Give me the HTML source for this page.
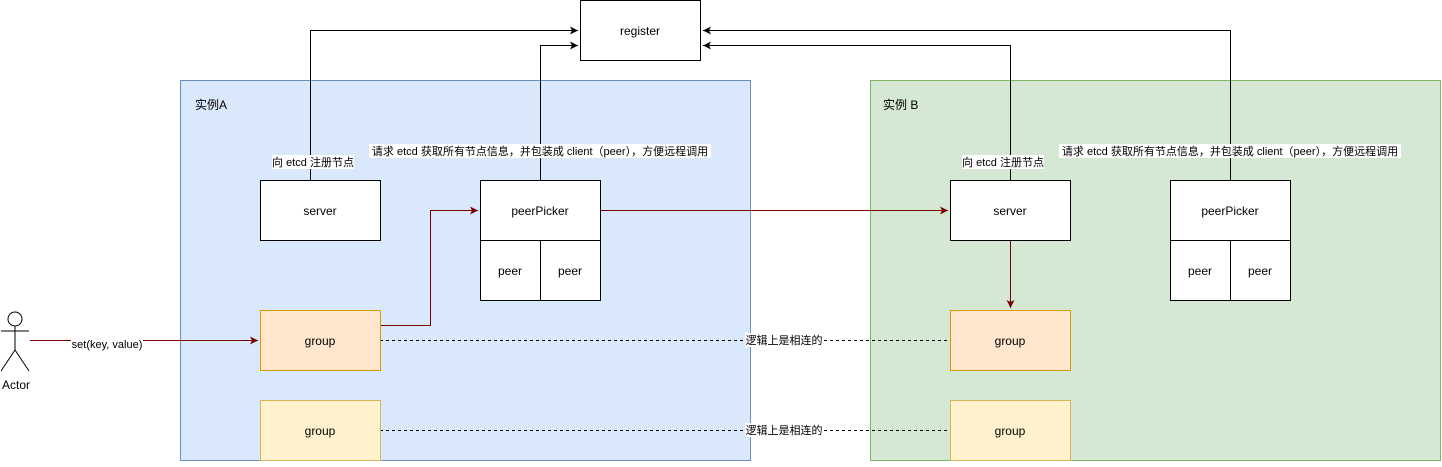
<!DOCTYPE html>
<html><head><meta charset="utf-8"><style>
html,body{margin:0;padding:0;background:#fff;}
svg text{font-family:"Liberation Sans","Noto Sans CJK SC",sans-serif;font-size:12px;fill:#000;}
</style></head><body>
<svg width="1442" height="462" viewBox="0 0 1442 462" xmlns="http://www.w3.org/2000/svg">
<defs>
<marker id="ab" markerWidth="10" markerHeight="10" refX="9" refY="5" orient="auto" markerUnits="userSpaceOnUse"><path d="M1,1 L9,5 L1,9 L3,5 Z" fill="#000"/></marker>
<marker id="ar" markerWidth="10" markerHeight="10" refX="9" refY="5" orient="auto" markerUnits="userSpaceOnUse"><path d="M1,1 L9,5 L1,9 L3,5 Z" fill="#7a0000"/></marker>
</defs>
<rect x="580.5" y="0.5" width="120" height="60" fill="#fff" stroke="#000"/>
<text x="640" y="35" text-anchor="middle">register</text>
<rect x="180.5" y="80.5" width="570" height="380" fill="#dae8fc" stroke="#6c8ebf"/>
<rect x="870.5" y="80.5" width="570" height="380" fill="#d5e8d4" stroke="#82b366"/>
<text x="195" y="109">实例A</text>
<text x="883" y="109">实例 B</text>
<g fill="none" stroke="#000">
<polyline points="310.5,180 310.5,30.5 578,30.5" marker-end="url(#ab)"/>
<polyline points="540.5,180 540.5,45.5 578,45.5" marker-end="url(#ab)"/>
<polyline points="1010.5,180 1010.5,45.5 703,45.5" marker-end="url(#ab)"/>
<polyline points="1230.5,180 1230.5,30.5 703,30.5" marker-end="url(#ab)"/>
</g>
<g fill="none" stroke="#7a0000">
<polyline points="380,325.5 430.5,325.5 430.5,210.5 478,210.5" marker-end="url(#ar)"/>
<line x1="600" y1="210.5" x2="948" y2="210.5" marker-end="url(#ar)"/>
<line x1="1010.5" y1="240" x2="1010.5" y2="308" marker-end="url(#ar)"/>
<line x1="30" y1="340.5" x2="258" y2="340.5" marker-end="url(#ar)"/>
</g>
<g stroke="#000" stroke-dasharray="3,3">
<line x1="380" y1="340.5" x2="950" y2="340.5"/>
<line x1="380" y1="430.5" x2="950" y2="430.5"/>
</g>
<g fill="#fff" stroke="#000">
<rect x="260.5" y="180.5" width="120" height="60"/>
<rect x="480.5" y="180.5" width="120" height="60"/>
<rect x="480.5" y="240.5" width="60" height="60"/>
<rect x="540.5" y="240.5" width="60" height="60"/>
<rect x="950.5" y="180.5" width="120" height="60"/>
<rect x="1170.5" y="180.5" width="120" height="60"/>
<rect x="1170.5" y="240.5" width="60" height="60"/>
<rect x="1230.5" y="240.5" width="60" height="60"/>
</g>
<rect x="260.5" y="310.5" width="120" height="60" fill="#ffe6cc" stroke="#d79b00"/>
<rect x="950.5" y="310.5" width="120" height="60" fill="#ffe6cc" stroke="#d79b00"/>
<rect x="260.5" y="400.5" width="120" height="60" fill="#fff2cc" stroke="#d6b656"/>
<rect x="950.5" y="400.5" width="120" height="60" fill="#fff2cc" stroke="#d6b656"/>
<g text-anchor="middle">
<text x="320" y="215">server</text>
<text x="540" y="215">peerPicker</text>
<text x="510" y="275">peer</text>
<text x="570" y="275">peer</text>
<text x="1010" y="215">server</text>
<text x="1230" y="215">peerPicker</text>
<text x="1200" y="275">peer</text>
<text x="1260" y="275">peer</text>
<text x="320" y="345">group</text>
<text x="1010" y="345">group</text>
<text x="320" y="435">group</text>
<text x="1010" y="435">group</text>
</g>
<g>
<rect x="272" y="155" width="82" height="14" fill="#fff"/>
<text x="313" y="166" text-anchor="middle" style="font-size:11px">向 etcd 注册节点</text>
<rect x="369" y="144" width="342" height="14" fill="#fff"/>
<text x="540" y="155" text-anchor="middle" style="font-size:11px">请求 etcd 获取所有节点信息，并包装成 client（peer），方便远程调用</text>
<rect x="962" y="155" width="82" height="14" fill="#fff"/>
<text x="1003" y="166" text-anchor="middle" style="font-size:11px">向 etcd 注册节点</text>
<rect x="1059" y="144" width="342" height="14" fill="#fff"/>
<text x="1230" y="155" text-anchor="middle" style="font-size:11px">请求 etcd 获取所有节点信息，并包装成 client（peer），方便远程调用</text>
<rect x="71" y="334" width="72" height="14" fill="#fff"/>
<text x="107" y="348" text-anchor="middle" style="font-size:11px">set(key, value)</text>
<rect x="745" y="333" width="78" height="14" fill="#fff"/>
<text x="784" y="344" text-anchor="middle" style="font-size:11px">逻辑上是相连的</text>
<rect x="745" y="423" width="78" height="14" fill="#fff"/>
<text x="784" y="434" text-anchor="middle" style="font-size:11px">逻辑上是相连的</text>
</g>
<g fill="none" stroke="#000">
<circle cx="15" cy="319" r="7" fill="#fff"/>
<line x1="15" y1="326" x2="15" y2="350"/>
<line x1="1" y1="331" x2="29" y2="331"/>
<polyline points="1,371 15,350 29,371"/>
</g>
<text x="16" y="389" text-anchor="middle">Actor</text>
</svg>
</body></html>
